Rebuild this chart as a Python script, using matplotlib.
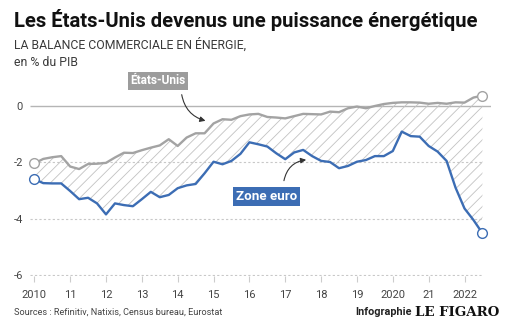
import matplotlib
matplotlib.use("Agg")
import matplotlib.pyplot as plt
import numpy as np

plt.rcParams['font.family'] = ['Roboto', 'DejaVu Sans']
plt.rcParams['hatch.linewidth'] = 0.6

# Quarterly data, 2010 Q1 .. 2022 Q3 (51 points)
start_year = 2010.0
etats_unis = [-2.04, -1.88, -1.82, -1.78, -2.15, -2.24, -2.06, -2.05, -2.02, -1.83,
              -1.66, -1.67, -1.57, -1.48, -1.40, -1.18, -1.42, -1.12, -0.97, -0.97,
              -0.62, -0.47, -0.49, -0.36, -0.30, -0.28, -0.39, -0.41, -0.44, -0.36,
              -0.28, -0.29, -0.30, -0.20, -0.22, -0.08, -0.02, -0.08, 0.00, 0.07,
              0.11, 0.13, 0.13, 0.12, 0.08, 0.11, 0.08, 0.13, 0.12, 0.30, 0.37]
zone_euro = [-2.60, -2.74, -2.75, -2.75, -3.02, -3.31, -3.26, -3.46, -3.85, -3.46,
             -3.52, -3.56, -3.31, -3.05, -3.24, -3.16, -2.92, -2.82, -2.77, -2.39,
             -1.98, -2.07, -1.95, -1.70, -1.29, -1.36, -1.44, -1.68, -1.89, -1.65,
             -1.56, -1.78, -1.95, -1.99, -2.21, -2.13, -1.98, -1.92, -1.78, -1.78,
             -1.60, -0.91, -1.07, -1.09, -1.42, -1.62, -1.95, -2.90, -3.64, -4.05, -4.52]
year_ticks = [2010, 2011, 2012, 2013, 2014, 2015, 2016, 2017, 2018, 2019, 2020, 2021, 2022]
year_labels = ["2010", "11", "12", "13", "14", "15", "16", "17", "18", "19", "2020", "21", "2022"]
y_ticks = [0, -2, -4, -6]
y_labels = ["0", "-2", "-4", "-6"]

x = start_year + np.arange(len(etats_unis)) * 0.25

W, H = 529, 332
fig = plt.figure(figsize=(W / 100, H / 100), dpi=100)

# axes placement in pixels
px_per_year = 35.85
px_per_unit = 28.15
x0_px, y0_px = 34.3, 106.0  # pixel of (2010, 0)
ax_left_px, ax_right_px = 30.0, 491.0
ylim = (-6.05, 0.6)
ax_top_px = y0_px - ylim[1] * px_per_unit
ax_bot_px = y0_px - ylim[0] * px_per_unit
xlim = (2010 + (ax_left_px - x0_px) / px_per_year, 2010 + (ax_right_px - x0_px) / px_per_year)
ax = fig.add_axes([ax_left_px / W, 1 - ax_bot_px / H,
                   (ax_right_px - ax_left_px) / W, (ax_bot_px - ax_top_px) / H])
ax.set_xlim(*xlim)
ax.set_ylim(*ylim)
for s in ax.spines.values():
    s.set_visible(False)

gray = '#a3a3a3'
blue = '#3c6db4'

# gridlines
ax.hlines(0, xlim[0], xlim[1], color='#b5b5b5', lw=1.0, zorder=1)
for v in [-2, -4, -6]:
    ax.hlines(v, xlim[0], x[-1], color='#c8c8c8', lw=0.8, linestyles=(0, (2, 2)), zorder=1)

ax.fill_between(x, etats_unis, zone_euro, facecolor='none', edgecolor='#c2c2c2',
                hatch='///', linewidth=0, zorder=2)
ax.plot(x, etats_unis, color=gray, lw=1.7, zorder=3, solid_joinstyle='round')
ax.plot(x, zone_euro, color=blue, lw=1.7, zorder=3, solid_joinstyle='round')
for series, c in [(etats_unis, gray), (zone_euro, blue)]:
    ax.plot([x[0], x[-1]], [series[0], series[-1]], 'o', ms=7, mfc='white', mec=c,
            mew=1.0, zorder=4, clip_on=False)

ax.set_xticks(year_ticks)
ax.set_xticklabels(year_labels)
ax.tick_params(axis='x', length=4, color='#cccccc', pad=6, labelsize=8, labelcolor='#444444')
ax.set_yticks(y_ticks)
ax.set_yticklabels(y_labels)
ax.tick_params(axis='y', length=0, pad=5, labelsize=8, labelcolor='#444444')

# annotations
narrow = ['Liberation Sans Narrow', 'Roboto', 'DejaVu Sans']
ax.annotate('', xy=(2014.85, -0.55), xytext=(2014.1, 0.5),
            arrowprops=dict(arrowstyle='-|>', color='#333333', lw=0.8,
                            connectionstyle='arc3,rad=0.35', mutation_scale=8))
ax.text(2013.44, 0.89, 'États-Unis', ha='center', va='center', color='white',
        fontsize=8.6, fontweight='bold', family=narrow,
        bbox=dict(boxstyle='square,pad=0.2', fc='#9c9c9c', ec='none'))
ax.annotate('', xy=(2017.66, -1.9), xytext=(2016.95, -2.75),
            arrowprops=dict(arrowstyle='-|>', color='#333333', lw=0.8,
                            connectionstyle='arc3,rad=-0.4', mutation_scale=8))
ax.text(2016.48, -3.2, 'Zone euro', ha='center', va='center', color='white',
        fontsize=9.6, fontweight='bold', family=narrow,
        bbox=dict(boxstyle='square,pad=0.22', fc=blue, ec='none'))

# titles
fig.text(14 / W, 1 - 20 / H, 'Les États-Unis devenus une puissance énergétique',
         fontsize=14.6, fontweight='bold', color='#111111', va='center', ha='left')
fig.text(14 / W, 1 - 45 / H, 'LA BALANCE COMMERCIALE EN ÉNERGIE,', fontsize=8.8,
         fontweight='normal', color='#3a3a3a', va='center', ha='left')
fig.text(14 / W, 1 - 62 / H, 'en % du PIB', fontsize=8.8, fontweight='normal',
         color='#3a3a3a', va='center', ha='left')

fig.text(14 / W, 1 - 312 / H, 'Sources : Refinitiv, Natixis, Census bureau, Eurostat',
         fontsize=6.6, color='#444444', va='center', ha='left')
fig.text(412 / W, 1 - 312 / H, 'Infographie', fontsize=7.8, fontweight='bold',
         color='#222222', va='center', ha='right')
fig.text(415 / W, 1 - 312 / H, 'LE FIGARO', fontsize=9.6, fontweight='bold',
         family=['DejaVu Serif'], color='#111111', va='center', ha='left')

fig.savefig('out.png', dpi=100)
